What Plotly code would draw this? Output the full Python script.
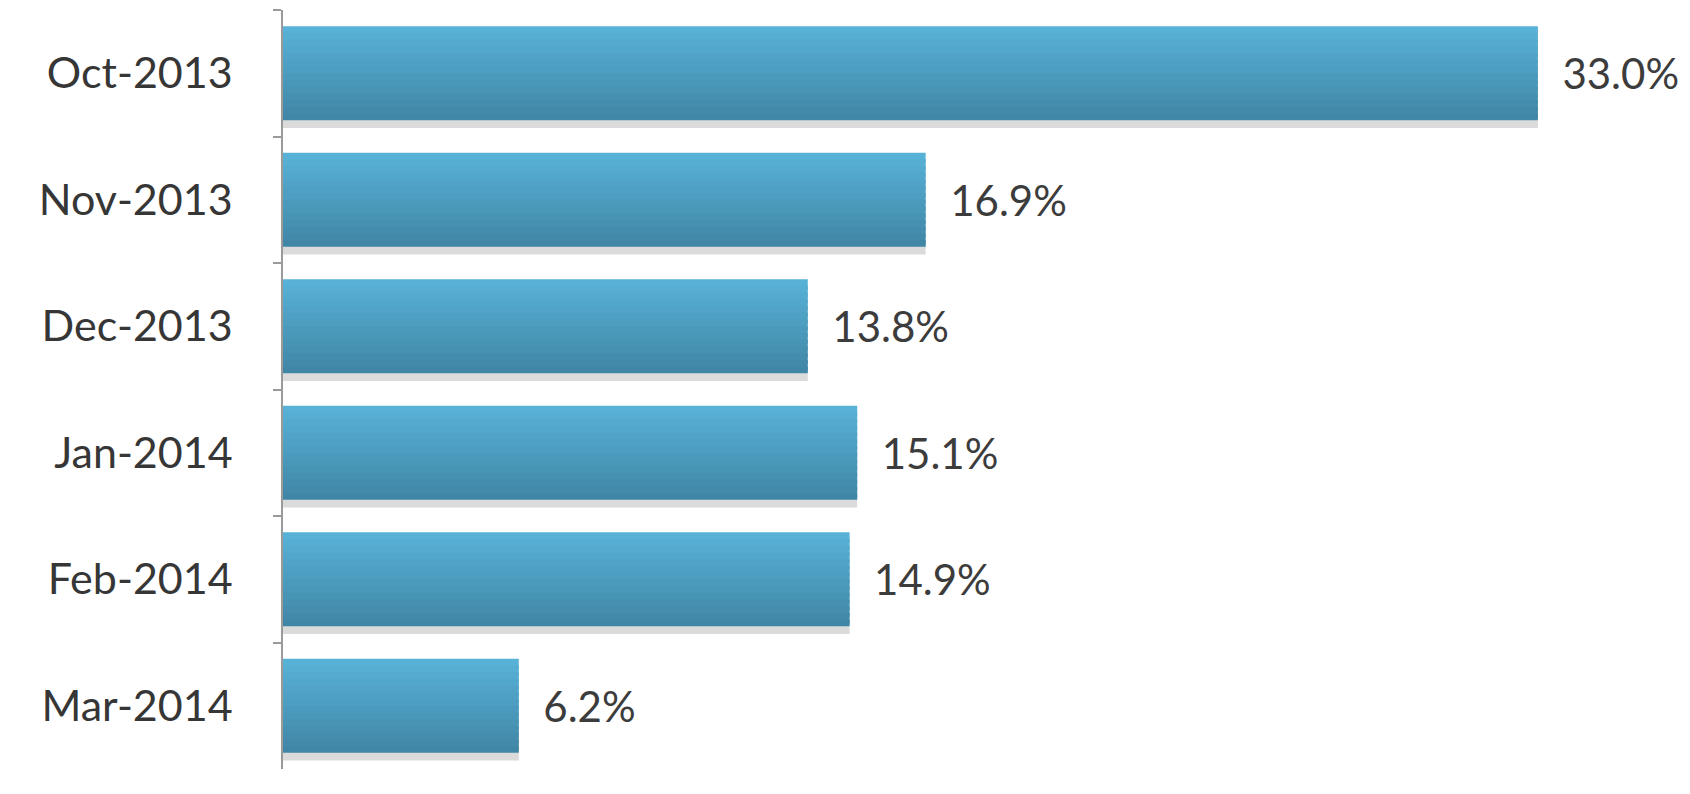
import plotly.graph_objects as go

months = ["Oct-2013", "Nov-2013", "Dec-2013", "Jan-2014", "Feb-2014", "Mar-2014"]
values = [33.0, 16.9, 13.8, 15.1, 14.9, 6.2]
labels = ["33.0%", "16.9%", "13.8%", "15.1%", "14.9%", "6.2%"]

BAR_W = 0.745
N = 14
top_rgb = (88, 178, 215)
bot_rgb = (64, 134, 166)

fig = go.Figure()

# soft shadow under bars
fig.add_trace(go.Bar(
    y=months, x=values, orientation="h",
    width=0.08, offset=BAR_W / 2 - 0.02,
    marker=dict(color="rgba(90,90,90,0.22)", line=dict(width=0)),
    hoverinfo="skip", showlegend=False,
))

# gradient stripes (top light -> bottom dark); axis reversed so larger offset = lower
for i in range(N):
    t = i / (N - 1)
    r = round(top_rgb[0] + (bot_rgb[0] - top_rgb[0]) * t)
    g = round(top_rgb[1] + (bot_rgb[1] - top_rgb[1]) * t)
    b = round(top_rgb[2] + (bot_rgb[2] - top_rgb[2]) * t)
    w = BAR_W / N
    fig.add_trace(go.Bar(
        y=months, x=values, orientation="h",
        width=w * (1.6 if i < N - 1 else 1.0), offset=-BAR_W / 2 + i * w,
        marker=dict(color=f"rgb({r},{g},{b})", line=dict(width=0)),
        hoverinfo="skip", showlegend=False,
    ))

# value labels
fig.add_trace(go.Bar(
    y=months, x=values, orientation="h",
    width=BAR_W,
    marker=dict(color="rgba(0,0,0,0)", line=dict(width=0)),
    text=labels, texttemplate="\u00a0\u00a0%{text}",
    textposition="outside", cliponaxis=False,
    textfont=dict(family="Lato", size=42, color="#3c3c3c"),
    hoverinfo="skip", showlegend=False,
))

fig.update_layout(
    width=1690, height=794,
    margin=dict(l=283, r=0, t=10, b=25),
    paper_bgcolor="white", plot_bgcolor="white",
    barmode="overlay",
    font=dict(family="Lato", size=43, color="#363636"),
    xaxis=dict(range=[0, 37.0], showgrid=False, showticklabels=False,
               zeroline=False, showline=False, ticks=""),
    yaxis=dict(autorange="reversed", showgrid=False,
               showline=True, linecolor="#9a9a9a", linewidth=1.5,
               ticks="outside", tickson="boundaries", ticklen=8,
               tickcolor="#9a9a9a", tickwidth=1.5,
               ticklabelstandoff=40,
               tickfont=dict(family="Lato", size=43, color="#363636")),
)

fig.write_html("out.html")
